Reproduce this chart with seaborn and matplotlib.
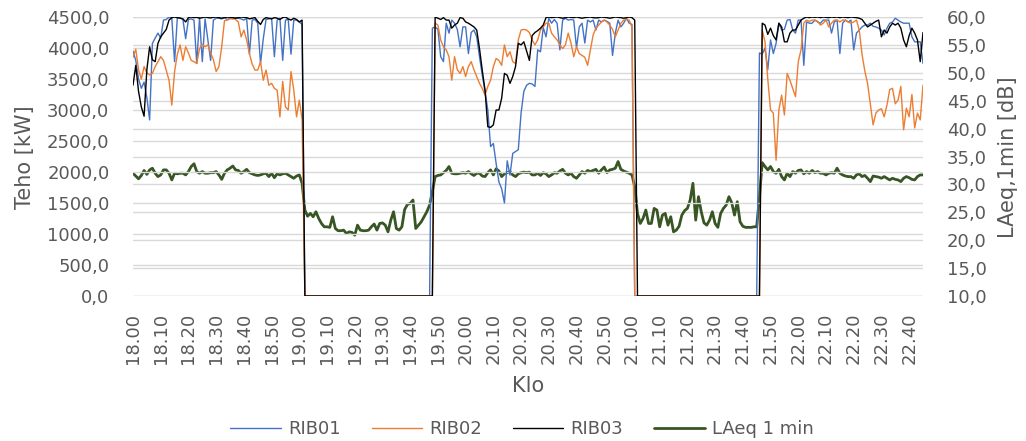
import numpy as np
import pandas as pd
import matplotlib
matplotlib.use("Agg")
import matplotlib.pyplot as plt
from matplotlib.ticker import FuncFormatter, MultipleLocator
import seaborn as sns


# ── Data (one value per minute, 18.00 → 22.45) ─────────────────────────────────

tick_labels = [
    "18.00", "18.10", "18.20", "18.30", "18.40", "18.50",
    "19.00", "19.10", "19.20", "19.30", "19.40", "19.50",
    "20.00", "20.10", "20.20", "20.30", "20.40", "20.50",
    "21.00", "21.10", "21.20", "21.30", "21.40", "21.50",
    "22.00", "22.10", "22.20", "22.30", "22.40",
]

rib01 = [
    3950, 3800, 3500, 3350, 3450, 3200, 2840, 4075, 4160, 4240,
    4160, 4450, 4460, 4500, 4480, 3780, 4490, 4490, 4460, 4150,
    4460, 4470, 4450, 3750, 4490, 3780, 4470, 4130, 3800, 4450,
    4480, 4480, 4470, 4490, 4460, 4480, 4470, 4490, 4480, 4470,
    4450, 4480, 3900, 4450, 4460, 4400, 3750, 4150, 4460, 4470,
    4480, 3860, 4450, 4480, 3800, 4450, 4460, 3900, 4450, 4450,
    4420, 4380,
    0, 0, 0, 0, 0, 0, 0, 0, 0, 0, 0, 0, 0, 0, 0, 0,
    0, 0, 0, 0, 0, 0, 0, 0, 0, 0, 0, 0, 0, 0, 0, 0,
    0, 0, 0, 0, 0, 0, 0, 0, 0, 0, 0, 0, 0, 0,
    4320, 4340, 4300, 3860, 3780, 4400, 4240, 4450, 4400, 4300,
    4020, 4340, 4340, 3910, 4250, 4290, 4180, 3860, 3560, 3300,
    3000, 2410, 2460, 2140, 1840, 1730, 1500, 2180, 1950, 2300,
    2330, 2360, 2950, 3300, 3400, 3430, 3420, 3380, 3970, 3940,
    4330, 4180, 4480, 4400, 4460, 4400, 3970, 4450, 4480, 4450,
    4460, 4450, 4000, 4340, 4400, 4080, 4450, 4420, 4450, 4290,
    4450, 4420, 4450, 4430, 4400, 3880, 4240, 4450, 4340, 4400,
    4480, 4400, 4380,
    0, 0, 0, 0, 0, 0, 0, 0, 0, 0, 0, 0, 0, 0, 0,
    0, 0, 0, 0, 0, 0, 0, 0, 0, 0, 0, 0, 0, 0, 0,
    0, 0, 0, 0, 0, 0, 0, 0, 0, 0, 0, 0, 0, 0, 0,
    3920, 3900, 4000, 3650, 4130, 3910, 4075, 4400, 4290, 4300,
    4450, 4460, 4290, 4240, 4450, 4450, 3720, 4420, 4400, 4400,
    4450, 4420, 4400, 4450, 4450, 4450, 4240, 4420, 4450, 3910,
    4400, 4450, 4420, 4450, 3970, 4240, 4290, 4340, 4370, 4370,
    4400, 4350, 4340, 4320, 4290, 4210, 4320, 4400, 4420, 4480,
    4450, 4420, 4400, 4400, 4400, 4180, 4100, 4100, 4100, 3750,
]

rib02 = [
    3850, 3980, 3650, 3500, 3700, 3600, 3565, 3590, 3700, 3780,
    3860, 3800, 3640, 3480, 3080, 3620, 3900, 4050, 3800, 4020,
    3920, 3800, 3780, 3750, 3990, 4060, 4020, 4050, 3920, 3810,
    3620, 3700, 4020, 4440, 4450, 4470, 4480, 4460, 4420, 4180,
    4290, 4130, 3910, 3740, 3645, 3645, 3780, 3480, 3645, 3400,
    3430, 3350, 3320, 2890, 3460, 3050, 3000, 3620, 3320, 2890,
    3160, 2850,
    0, 0, 0, 0, 0, 0, 0, 0, 0, 0, 0, 0, 0, 0, 0, 0,
    0, 0, 0, 0, 0, 0, 0, 0, 0, 0, 0, 0, 0, 0, 0, 0,
    0, 0, 0, 0, 0, 0, 0, 0, 0, 0, 0, 0, 0, 0, 0,
    4400, 4370, 4130, 4020, 3970, 3860, 3480, 3860, 3650, 3590,
    3700, 3540, 3700, 3780, 3650, 3540, 3430, 3350, 3240, 3380,
    3480, 3700, 3830, 3800, 3720, 4050, 3860, 3940, 3780, 3750,
    4130, 4290, 4300, 4290, 4250, 4130, 4050, 4130, 4290, 4340,
    4400, 4400, 4240, 4180, 4130, 4050, 3990, 4050, 4240, 4080,
    3860, 4020, 3910, 3880, 3850, 3720, 3970, 4210, 4320, 4370,
    4420, 4450, 4420, 4370, 4300, 4180, 4290, 4400, 4450, 4460,
    4450, 4340,
    0, 0, 0, 0, 0, 0, 0, 0, 0, 0, 0, 0, 0, 0, 0, 0,
    0, 0, 0, 0, 0, 0, 0, 0, 0, 0, 0, 0, 0, 0, 0,
    0, 0, 0, 0, 0, 0, 0, 0, 0, 0, 0, 0, 0, 0, 0,
    4290, 4100, 3500, 3000, 2950, 2190, 3000, 3240, 2920, 3590,
    3480, 3350, 3215, 3780, 3970, 4400, 4450, 4430, 4450, 4450,
    4430, 4370, 4400, 4450, 4340, 4400, 4450, 4450, 4420, 4450,
    4450, 4420, 4400, 4420, 4450, 4290, 3900, 3630, 3430, 3100,
    2760, 2950, 3000, 3020, 2890, 3080, 3330, 3350, 3100, 3160,
    3380, 2680, 3030, 2890, 3250, 2710, 2950, 2840, 3400,
]

rib03 = [
    3400, 3720, 3300, 3050, 2900, 3650, 4020, 3810, 3780, 4075,
    4180, 4240, 4300, 4450, 4490, 4500, 4490, 4480, 4470, 4420,
    4490, 4500, 4490, 4495, 4480, 4490, 4500, 4490, 4485, 4495,
    4500, 4490, 4480, 4490, 4500, 4495, 4490, 4480, 4490, 4500,
    4495, 4490, 4470, 4480, 4490, 4430, 4380, 4460, 4490, 4480,
    4470, 4490, 4480, 4460, 4490, 4500, 4470, 4450, 4480, 4460,
    4420, 4450,
    0, 0, 0, 0, 0, 0, 0, 0, 0, 0, 0, 0, 0, 0, 0, 0,
    0, 0, 0, 0, 0, 0, 0, 0, 0, 0, 0, 0, 0, 0, 0, 0,
    0, 0, 0, 0, 0, 0, 0, 0, 0, 0, 0, 0, 0, 0, 0,
    4500, 4480, 4460, 4490, 4450, 4450, 4320, 4370, 4400, 4490,
    4480, 4420, 4400, 4370, 4340, 4290, 3990, 3640, 3320, 2730,
    2720, 2760, 3000, 3000, 3190, 3590, 3560, 3430, 3540, 3700,
    4075, 4050, 4100, 3950, 3800, 4200, 4250, 4280, 4320, 4370,
    4490, 4500, 4490, 4495, 4500, 4490, 4480, 4490, 4500, 4495,
    4490, 4500, 4490, 4480, 4490, 4495, 4500, 4490, 4485, 4490,
    4500, 4495, 4490, 4480, 4490, 4500, 4495, 4490, 4480, 4490,
    4500, 4490, 4450,
    0, 0, 0, 0, 0, 0, 0, 0, 0, 0, 0, 0, 0, 0, 0,
    0, 0, 0, 0, 0, 0, 0, 0, 0, 0, 0, 0, 0, 0, 0,
    0, 0, 0, 0, 0, 0, 0, 0, 0, 0, 0, 0, 0, 0, 0,
    4400, 4370, 4220, 4320, 4200, 4130, 4400, 4340, 4100, 4100,
    4240, 4290, 4290, 4370, 4450, 4480, 4500, 4490, 4500, 4495,
    4500, 4490, 4500, 4495, 4490, 4500, 4495, 4500, 4490, 4500,
    4495, 4490, 4500, 4495, 4490, 4480, 4460, 4400, 4340, 4370,
    4400, 4430, 4450, 4180, 4290, 4240, 4340, 4400, 4370, 4400,
    4320, 4130, 4020, 4200, 4320, 4240, 4130, 3780, 4250,
]

laeq = [
    32.0, 31.5, 31.0, 31.6, 32.5, 31.8, 32.6, 32.9, 32.0, 31.4,
    31.7, 32.6, 32.6, 32.0, 30.8, 32.0, 31.9, 32.0, 32.0, 31.7,
    32.3, 33.2, 33.7, 32.3, 32.0, 32.3, 32.0, 32.0, 32.1, 32.1,
    32.3, 31.7, 30.9, 32.0, 32.6, 32.9, 33.3, 32.6, 32.5, 32.0,
    32.3, 32.7, 32.1, 31.9, 31.7, 31.6, 31.7, 31.9, 32.0, 31.4,
    32.0, 31.2, 31.9, 31.7, 31.9, 32.0, 31.7, 31.4, 31.1, 31.5,
    31.7, 30.2, 25.4, 24.3, 24.8, 24.2, 25.1, 23.9, 23.0, 22.4,
    22.4, 22.3, 24.2, 22.1, 21.7, 21.7, 21.8, 21.2, 21.5, 21.4,
    20.9, 22.7, 21.8, 21.7, 21.7, 21.8, 22.4, 22.9, 21.8, 23.0,
    23.1, 22.7, 21.5, 23.6, 25.1, 22.1, 21.8, 22.4, 25.5, 26.4,
    26.6, 27.2, 22.1, 22.7, 23.3, 24.2, 25.1, 26.3, 28.7, 31.4,
    31.6, 31.7, 32.1, 32.5, 33.2, 32.0, 31.9, 31.9, 32.0, 32.1,
    32.0, 32.3, 31.9, 31.6, 32.0, 32.0, 31.5, 31.4, 32.1, 32.6,
    31.7, 32.8, 32.4, 31.4, 31.9, 32.1, 32.3, 31.7, 31.4, 31.9,
    32.1, 32.2, 32.1, 32.2, 31.7, 31.7, 32.0, 31.6, 32.1, 31.9,
    31.4, 31.7, 32.1, 32.0, 32.4, 32.7, 32.0, 31.7, 32.0, 31.4,
    31.1, 31.7, 32.3, 32.0, 32.5, 32.3, 32.5, 32.7, 32.0, 32.6,
    33.1, 32.1, 32.6, 32.7, 32.9, 34.1, 32.7, 32.4, 32.2, 32.0,
    31.7, 29.6, 24.8, 23.0, 23.9, 25.4, 23.0, 23.0, 25.7, 25.4,
    22.4, 24.5, 24.8, 22.7, 24.2, 21.5, 21.8, 22.5, 24.5, 25.3,
    25.7, 27.2, 30.2, 23.6, 27.8, 25.1, 23.1, 22.7, 23.6, 25.1,
    23.0, 22.3, 24.8, 25.7, 26.3, 27.8, 26.7, 24.5, 26.9, 23.3,
    22.5, 22.3, 22.3, 22.3, 22.4, 22.4, 27.8, 33.9, 33.2, 32.6,
    33.2, 32.3, 32.0, 32.7, 31.4, 30.8, 32.0, 31.4, 32.3, 32.0,
    32.5, 32.6, 31.9, 32.3, 32.0, 32.5, 32.1, 32.3, 32.0, 32.0,
    31.7, 32.0, 32.1, 32.0, 32.9, 32.0, 31.7, 31.5, 31.4, 31.4,
    31.1, 31.7, 31.9, 31.4, 31.6, 31.1, 30.5, 31.5, 31.4, 31.3,
    31.1, 31.4, 31.1, 30.8, 31.1, 30.9, 30.8, 30.5, 31.1, 31.4,
    31.2, 30.9, 30.8, 31.4, 31.7, 31.7,
]

lengths = [len(rib01), len(rib02), len(rib03), len(laeq)]
assert len(set(lengths)) == 1, f"series lengths differ: {lengths}"


# ── Styling ────────────────────────────────────────────────────────────────────

TEXT = "#595959"
GRID = "#d9d9d9"
colors = {"RIB01": "#4472C4", "RIB02": "#ED7D31", "RIB03": "#000000"}

sns.set_style("white")
plt.rcParams["font.family"] = ["DejaVu Sans"]

df = pd.DataFrame({
    "minute": np.arange(len(laeq)),
    "RIB01": rib01,
    "RIB02": rib02,
    "RIB03": rib03,
    "LAeq 1 min": laeq,
})

fig = plt.figure(figsize=(10.26, 4.41), dpi=100)
ax = fig.add_axes([133 / 1026, 1 - 296 / 441, 790 / 1026, 279 / 441])
ax2 = ax.twinx()

# power lines on the left axis, sound level on the right axis
for name in ["RIB01", "RIB02", "RIB03"]:
    sns.lineplot(data=df, x="minute", y=name, ax=ax, color=colors[name],
                 linewidth=1.0, label=name, zorder=3)
sns.lineplot(data=df, x="minute", y="LAeq 1 min", ax=ax2, color="#375623",
             linewidth=2.0, label="LAeq 1 min", zorder=3)

h1, l1 = ax.get_legend_handles_labels()
h2, l2 = ax2.get_legend_handles_labels()
ax.get_legend().remove()
ax2.get_legend().remove()

# keep the power lines above the right-axis grid
ax.set_zorder(ax2.get_zorder() + 1)
ax.patch.set_visible(False)

ax.set_xlim(df["minute"].iloc[0], df["minute"].iloc[-1])
ax.set_ylim(0, 4500)
ax2.set_ylim(10, 60)
ax.yaxis.set_major_locator(MultipleLocator(500))
ax2.yaxis.set_major_locator(MultipleLocator(5))

comma = FuncFormatter(lambda v, _: f"{v:.1f}".replace(".", ","))
ax.yaxis.set_major_formatter(comma)
ax2.yaxis.set_major_formatter(comma)

ax.set_xticks(df["minute"].iloc[::10])
ax.set_xticklabels(tick_labels, rotation=90)

for a in (ax, ax2):
    a.grid(axis="y", color=GRID, linewidth=1.0)
    a.grid(axis="x", visible=False)
    a.set_axisbelow(True)
    for s in a.spines.values():
        s.set_visible(False)
    a.set_xlabel("")
    a.set_ylabel("")
    a.tick_params(length=0, labelsize=13, labelcolor=TEXT)

ax.tick_params(axis="y", pad=17)
ax2.tick_params(axis="y", pad=17)
ax.tick_params(axis="x", pad=12)

fig.text(25 / 1026, 1 - 157 / 441, "Teho [kW]", rotation=90,
         ha="center", va="center", fontsize=15, color=TEXT)
fig.text(1008 / 1026, 1 - 157 / 441, "LAeq,1min [dB]", rotation=90,
         ha="center", va="center", fontsize=15, color=TEXT)
fig.text(528 / 1026, 1 - 386 / 441, "Klo",
         ha="center", va="center", fontsize=15, color=TEXT)

leg = fig.legend(h1 + h2, l1 + l2, loc="center",
                 bbox_to_anchor=(522 / 1026, 1 - 429 / 441), ncol=4,
                 frameon=False, fontsize=13, handlelength=2.8,
                 handletextpad=0.4, columnspacing=1.7)
for t in leg.get_texts():
    t.set_color(TEXT)

fig.savefig("out.png", dpi=100)
plt.close(fig)
